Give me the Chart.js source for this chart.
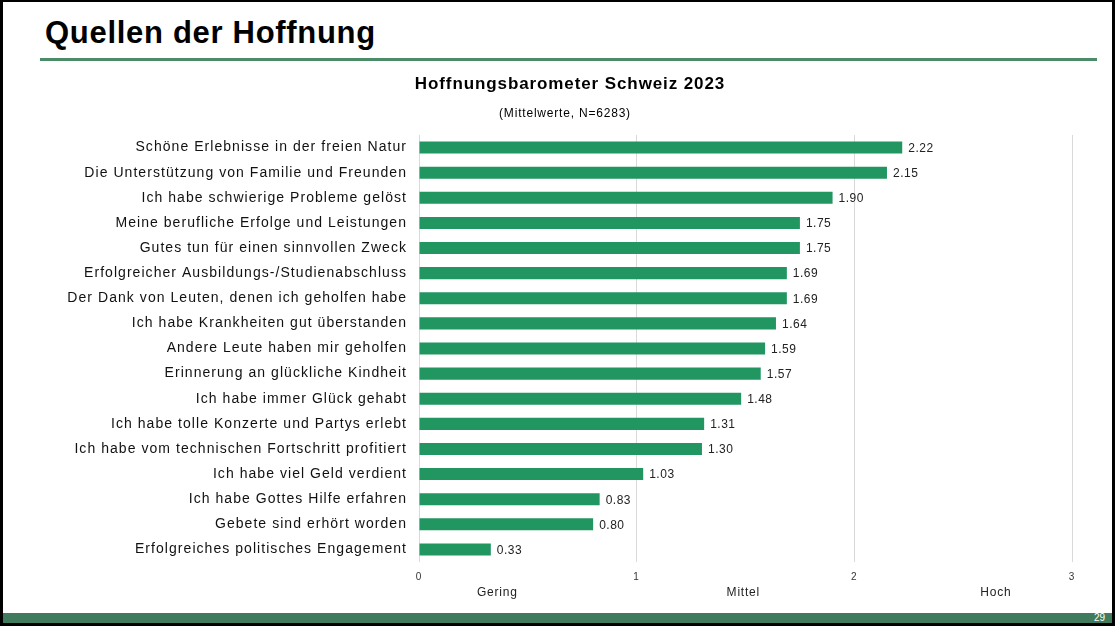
<!DOCTYPE html>
<html>
<head>
<meta charset="utf-8">
<script src="https://cdn.jsdelivr.net/npm/chart.js@4.4.1/dist/chart.umd.min.js"></script>
<style>
  html, body { margin: 0; padding: 0; background: #fff; }
  body { width: 1115px; height: 626px; position: relative; overflow: hidden; font-family: "Liberation Sans", Arial, sans-serif; }
  #frame { position: absolute; left: 0; top: 0; width: 1115px; height: 626px; box-sizing: border-box;
           border-style: solid; border-color: #000; border-width: 2px 3px 4px 3px; }
  #title { position: absolute; left: 45px; top: 15px; font-size: 31px; font-weight: bold; color: #000; letter-spacing: 0.7px; white-space: nowrap; }
  #rule { position: absolute; left: 40px; top: 58px; width: 1057px; height: 3px; background: #4b8b68; }
  #chartTitle { position: absolute; left: 0; width: 1140px; top: 74px; text-align: center; font-size: 17px; font-weight: bold; color: #000; letter-spacing: 0.9px; white-space: nowrap; }
  #chartSub { position: absolute; left: 0; width: 1130px; top: 106px; text-align: center; font-size: 12px; color: #000; letter-spacing: 0.8px; white-space: nowrap; }
  #footer { position: absolute; left: 3px; top: 613px; width: 1109px; height: 10px; background: #3f7b5c; }
  #pnum { position: absolute; right: 10px; top: 612px; font-size: 10px; color: #fff; }
  #wrap { position: absolute; left: 40px; top: 65px; width: 1062px; height: 545px; }
</style>
</head>
<body>
<div id="frame"></div>
<div id="title">Quellen der Hoffnung</div>
<div id="rule"></div>
<div id="wrap"><canvas id="hopeChart"></canvas></div>
<div id="chartTitle">Hoffnungsbarometer Schweiz 2023</div>
<div id="chartSub">(Mittelwerte, N=6283)</div>
<div id="footer"></div>
<div id="pnum">29</div>
<script>
const categories = [
  'Schöne Erlebnisse in der freien Natur',
  'Die Unterstützung von Familie und Freunden',
  'Ich habe schwierige Probleme gelöst',
  'Meine berufliche Erfolge und Leistungen',
  'Gutes tun für einen sinnvollen Zweck',
  'Erfolgreicher Ausbildungs-/Studienabschluss',
  'Der Dank von Leuten, denen ich geholfen habe',
  'Ich habe Krankheiten gut überstanden',
  'Andere Leute haben mir geholfen',
  'Erinnerung an glückliche Kindheit',
  'Ich habe immer Glück gehabt',
  'Ich habe tolle Konzerte und Partys erlebt',
  'Ich habe vom technischen Fortschritt profitiert',
  'Ich habe viel Geld verdient',
  'Ich habe Gottes Hilfe erfahren',
  'Gebete sind erhört worden',
  'Erfolgreiches politisches Engagement'
];
const meanValues = [2.22, 2.15, 1.90, 1.75, 1.75, 1.69, 1.69, 1.64, 1.59, 1.57, 1.48, 1.31, 1.30, 1.03, 0.83, 0.80, 0.33];
const xTicks = [0, 1, 2, 3];
const levelLabels = ['Gering', 'Mittel', 'Hoch'];

const ctx = document.getElementById('hopeChart');

// the slide text is a bit spread out, so widen the canvas text too
const spacing = {
  id: 'spacing',
  beforeDraw(chart) {
    chart.ctx.letterSpacing = '1.05px';
  }
};

// value labels next to each bar
const valueLabels = {
  id: 'valueLabels',
  afterDatasetsDraw(chart) {
    const c = chart.ctx;
    const meta = chart.getDatasetMeta(0);
    c.save();
    c.letterSpacing = '0.5px';
    c.font = '12px "Liberation Sans", Arial, sans-serif';
    c.fillStyle = '#222';
    c.textBaseline = 'middle';
    meta.data.forEach((bar, i) => {
      c.fillText(meanValues[i].toFixed(2), bar.x + 6, bar.y + 1);
    });
    c.restore();
  }
};

// Gering / Mittel / Hoch under the axis
const levelText = {
  id: 'levelText',
  afterDraw(chart) {
    const c = chart.ctx;
    const x = chart.scales.x;
    const spots = [0.36, 1.49, 2.65];
    c.save();
    c.letterSpacing = '0.8px';
    c.font = '12px "Liberation Sans", Arial, sans-serif';
    c.fillStyle = '#222';
    c.textAlign = 'center';
    c.textBaseline = 'middle';
    levelLabels.forEach((t, i) => {
      c.fillText(t, x.getPixelForValue(spots[i]), chart.chartArea.bottom + 31);
    });
    c.restore();
  }
};

new Chart(ctx, {
  type: 'bar',
  data: {
    labels: categories,
    datasets: [{
      data: meanValues,
      backgroundColor: '#229661',
      borderWidth: 0,
      barPercentage: 0.48,
      categoryPercentage: 1
    }]
  },
  options: {
    indexAxis: 'y',
    responsive: true,
    maintainAspectRatio: false,
    animation: false,
    layout: { padding: { left: 0, right: 30, top: 70, bottom: 0 } },
    plugins: {
      legend: { display: false },
      tooltip: { enabled: false }
    },
    scales: {
      x: {
        min: 0,
        max: 3,
        afterBuildTicks: (s) => { s.ticks = xTicks.map(v => ({ value: v })); },
        afterFit: (s) => { s.height = 48; },
        border: { display: false },
        grid: { color: '#d9d9d9', lineWidth: 1, drawTicks: false },
        ticks: {
          padding: 9,
          color: '#333',
          font: { family: '"Liberation Sans", Arial, sans-serif', size: 10 }
        }
      },
      y: {
        afterFit: (s) => { s.width = 379; },
        border: { display: false },
        grid: { display: false, drawTicks: false },
        ticks: {
          padding: 12,
          color: '#111',
          autoSkip: false,
          font: { family: '"Liberation Sans", Arial, sans-serif', size: 14 }
        }
      }
    }
  },
  plugins: [spacing, valueLabels, levelText]
});
</script>
</body>
</html>
